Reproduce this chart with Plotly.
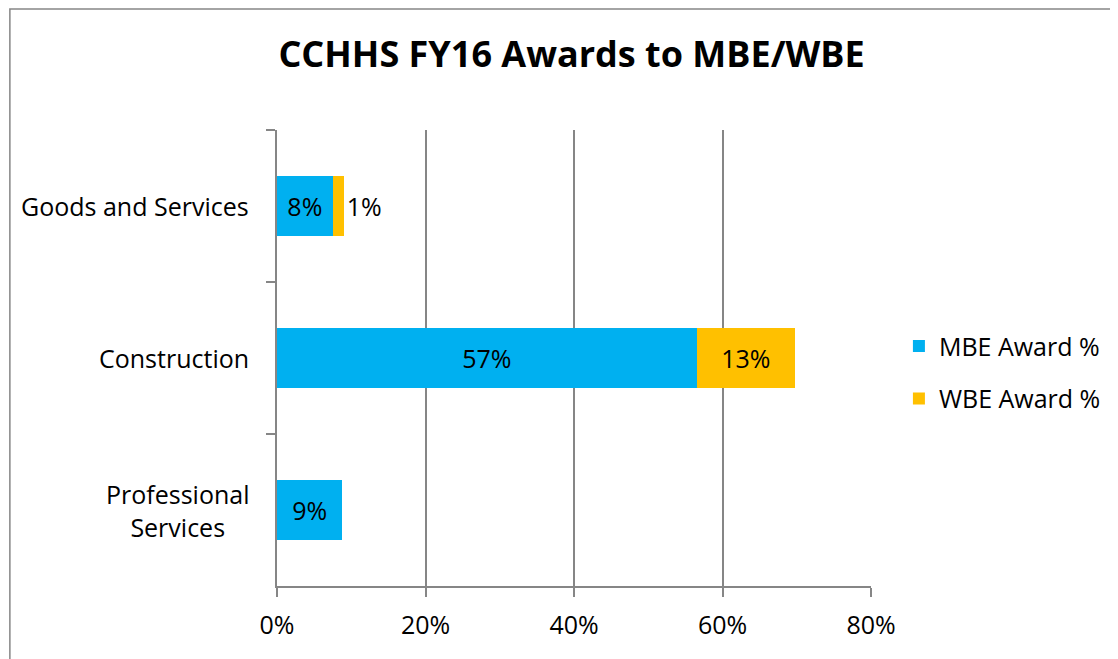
import plotly.graph_objects as go

# dados (em %)
categorias = ["Goods and Services", "Construction", "Professional Services"]
rotulos_cat = ["Goods and Services", "Construction", "Professional<br>Services"]
mbe = [7.5, 56.5, 8.8]
wbe = [1.5, 13.3, 0.0]
mbe_txt = ["8%", "57%", "9%"]
wbe_txt = ["1%", "13%", ""]
x_ticks = [0, 20, 40, 60, 80]
x_labels = ["0%", "20%", "40%", "60%", "80%"]

FONTE = "Open Sans"
CINZA = "#868686"
TAM = 25

fig = go.Figure()

fig.add_trace(go.Bar(
    y=categorias, x=mbe, orientation="h", name="MBE Award %",
    marker=dict(color="#00B0F0", line=dict(width=0)),
    text=mbe_txt, textposition="inside", insidetextanchor="middle",
    textfont=dict(color="black", size=TAM, family=FONTE),
    legendgroup="a",
))
fig.add_trace(go.Bar(
    y=categorias, x=wbe, orientation="h", name="WBE Award %",
    marker=dict(color="#FFC000", line=dict(width=0)),
    text=wbe_txt, textposition=["outside", "inside", "inside"],
    insidetextanchor="middle",
    textfont=dict(color="black", size=TAM, family=FONTE),
    legendgroup="b",
))

# rótulos das categorias (centralizados, como no Excel)
for cat, rot in zip(categorias, rotulos_cat):
    fig.add_annotation(
        x=0, xref="paper", y=cat, yref="y", xanchor="right", xshift=-26,
        text=rot, showarrow=False, align="center",
        font=dict(size=TAM, family=FONTE, color="black"),
    )

# moldura do gráfico
fig.add_shape(type="rect", xref="paper", yref="paper",
              x0=-0.4497, x1=1.5, y0=-0.5, y1=1.2654,
              line=dict(color=CINZA, width=1.5))

fig.update_layout(
    width=1110, height=651,
    barmode="stack", bargap=0.6,
    plot_bgcolor="white", paper_bgcolor="white",
    font=dict(family=FONTE, color="black", size=TAM),
    title=dict(text="<b>CCHHS FY16 Awards to MBE/WBE</b>", x=0.5077, xanchor="center",
               y=1 - 46 / 651, yanchor="middle",
               font=dict(size=36, family=FONTE, color="black")),
    margin=dict(l=269, r=245, t=122, b=73),
    legend=dict(x=1.047, y=0.469, xanchor="left", yanchor="middle",
                tracegroupgap=17, traceorder="grouped",
                font=dict(size=TAM, family=FONTE)),
    xaxis=dict(range=[0, 80], tickvals=x_ticks, ticktext=x_labels,
               showgrid=True, gridcolor=CINZA, gridwidth=1.5,
               showline=True, linecolor=CINZA, linewidth=1.5,
               ticks="outside", ticklen=9, tickcolor=CINZA, tickwidth=1.5,
               ticklabelstandoff=7,
               zeroline=False, tickfont=dict(size=TAM)),
    yaxis=dict(autorange="reversed", showticklabels=False,
               showline=True, linecolor=CINZA, linewidth=1.5,
               ticks="outside", ticklen=9, tickcolor=CINZA, tickwidth=1.5,
               tickson="boundaries", showgrid=False, zeroline=False),
)
fig.update_traces(cliponaxis=False, constraintext="none")

fig.write_html("out.html")
